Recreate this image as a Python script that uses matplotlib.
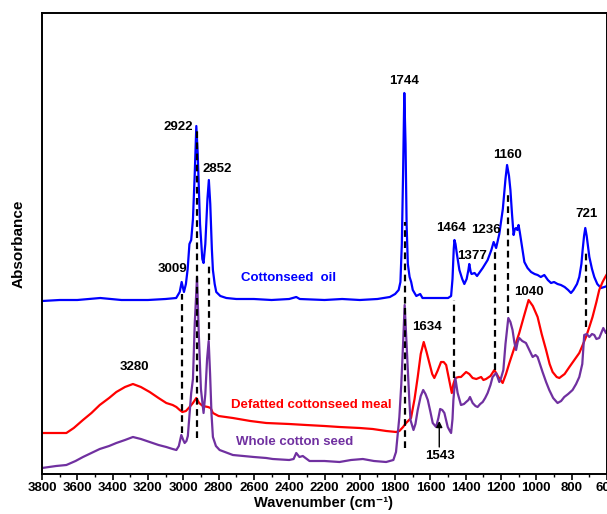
import matplotlib
matplotlib.use("Agg")
import matplotlib.pyplot as plt
from matplotlib.ticker import MultipleLocator

plt.rcParams['font.family'] = ['Liberation Sans', 'DejaVu Sans']
plt.rcParams['font.weight'] = 'bold'

# Cottonseed oil
oil_wn = [3800, 3700, 3600, 3470, 3350, 3200, 3100, 3040, 3020, 3009, 2996, 2985, 2975, 2965,
          2955, 2945, 2935, 2926, 2918, 2905, 2892, 2885, 2875, 2863, 2855, 2847, 2838, 2832,
          2822, 2813, 2790, 2756, 2700, 2600, 2500, 2400, 2360, 2340, 2200, 2100, 2000, 1900,
          1830, 1800, 1780, 1770, 1762, 1755, 1748, 1741, 1735, 1728, 1718, 1709, 1700, 1680,
          1658, 1645, 1600, 1550, 1500, 1483, 1475, 1468, 1464, 1458, 1451, 1436, 1420, 1408,
          1395, 1385, 1380, 1372, 1367, 1350, 1336, 1320, 1304, 1276, 1255, 1242, 1228, 1210,
          1190, 1175, 1166, 1155, 1147, 1138, 1129, 1122, 1115, 1108, 1101, 1094, 1087, 1068,
          1050, 1030, 1010, 993, 975, 955, 935, 917, 900, 880, 861, 840, 820, 804, 790, 770,
          757, 745, 738, 730, 723, 715, 708, 700, 685, 672, 655, 634, 615, 600]
oil_abs = [1.73, 1.74, 1.74, 1.76, 1.74, 1.74, 1.75, 1.76, 1.82, 1.92, 1.82, 1.90, 2.05, 2.30,
           2.34, 2.55, 3.00, 3.48, 3.20, 2.50, 2.15, 2.11, 2.30, 2.75, 2.94, 2.70, 2.25, 2.04,
           1.90, 1.82, 1.78, 1.76, 1.75, 1.75, 1.74, 1.75, 1.77, 1.75, 1.74, 1.75, 1.74, 1.75,
           1.77, 1.80, 1.84, 1.92, 2.30, 3.00, 3.81, 3.30, 2.50, 2.10, 1.97, 1.92, 1.84, 1.78,
           1.80, 1.76, 1.76, 1.76, 1.76, 1.78, 1.95, 2.25, 2.34, 2.30, 2.21, 2.04, 1.95, 1.90,
           1.95, 2.04, 2.10, 2.02, 2.00, 2.01, 1.98, 2.02, 2.06, 2.14, 2.24, 2.32, 2.26, 2.40,
           2.65, 2.95, 3.09, 2.98, 2.84, 2.60, 2.39, 2.45, 2.46, 2.44, 2.49, 2.42, 2.34, 2.12,
           2.06, 2.02, 2.00, 1.99, 1.97, 1.99, 1.94, 1.91, 1.92, 1.90, 1.89, 1.87, 1.84, 1.81,
           1.84, 1.90, 1.97, 2.10, 2.24, 2.38, 2.46, 2.38, 2.28, 2.17, 2.05, 1.97, 1.90, 1.86,
           1.87, 1.88]

# Defatted cottonseed meal
meal_wn = [3800, 3720, 3662, 3620, 3568, 3520, 3473, 3420, 3379, 3330, 3285, 3240, 3190, 3140,
           3096, 3060, 3039, 3020, 3005, 2985, 2964, 2945, 2926, 2910, 2889, 2860, 2845, 2832,
           2800, 2719, 2620, 2530, 2400, 2304, 2200, 2115, 2000, 1927, 1850, 1794, 1776, 1755,
           1738, 1710, 1690, 1672, 1655, 1638, 1622, 1606, 1590, 1578, 1560, 1540, 1525, 1511,
           1495, 1479, 1470, 1459, 1440, 1427, 1398, 1380, 1361, 1340, 1313, 1300, 1285, 1260,
           1238, 1215, 1191, 1172, 1153, 1125, 1097, 1070, 1044, 1020, 993, 970, 945, 925, 908,
           885, 870, 840, 813, 785, 757, 740, 719, 700, 682, 660, 644, 625, 610, 600]
meal_abs = [0.41, 0.41, 0.41, 0.46, 0.54, 0.61, 0.69, 0.76, 0.82, 0.87, 0.90, 0.87, 0.82, 0.76,
            0.71, 0.69, 0.67, 0.64, 0.62, 0.63, 0.67, 0.71, 0.76, 0.71, 0.68, 0.67, 0.66, 0.61,
            0.58, 0.56, 0.53, 0.51, 0.50, 0.49, 0.48, 0.47, 0.46, 0.45, 0.43, 0.42, 0.43, 0.47,
            0.51, 0.56, 0.75, 0.97, 1.20, 1.32, 1.22, 1.11, 1.00, 0.96, 1.03, 1.12, 1.12, 1.09,
            0.95, 0.81, 0.90, 0.96, 0.97, 0.97, 1.02, 1.00, 0.96, 0.95, 0.97, 0.94, 0.95, 0.98,
            1.04, 0.97, 0.91, 1.00, 1.11, 1.26, 1.41, 1.58, 1.74, 1.68, 1.57, 1.40, 1.24, 1.10,
            1.02, 0.97, 0.96, 1.00, 1.07, 1.14, 1.21, 1.28, 1.37, 1.47, 1.57, 1.72, 1.84, 1.92,
            1.97, 2.00]

# Whole cotton seed
seed_wn = [3800, 3720, 3662, 3610, 3568, 3520, 3473, 3420, 3379, 3330, 3285, 3240, 3190, 3140,
           3096, 3060, 3039, 3025, 3011, 3000, 2992, 2982, 2974, 2962, 2955, 2945, 2935, 2922,
           2912, 2900, 2885, 2875, 2865, 2856, 2848, 2840, 2832, 2815, 2794, 2719, 2600, 2530,
           2493, 2400, 2375, 2360, 2342, 2323, 2285, 2200, 2115, 2050, 1983, 1920, 1851, 1810,
           1795, 1785, 1776, 1765, 1755, 1746, 1738, 1729, 1720, 1713, 1696, 1685, 1672, 1655,
           1641, 1628, 1615, 1600, 1587, 1568, 1555, 1545, 1533, 1521, 1510, 1502, 1490, 1483,
           1475, 1470, 1459, 1452, 1446, 1427, 1410, 1398, 1385, 1376, 1361, 1345, 1333, 1318,
           1304, 1290, 1276, 1260, 1248, 1228, 1210, 1200, 1187, 1175, 1159, 1147, 1135, 1125,
           1115, 1106, 1097, 1080, 1059, 1040, 1021, 1005, 993, 980, 965, 945, 927, 905, 880,
           860, 842, 820, 795, 775, 757, 740, 729, 715, 700, 685, 672, 660, 644, 630, 621, 606,
           600]
seed_abs = [0.06, 0.08, 0.09, 0.13, 0.17, 0.21, 0.25, 0.28, 0.31, 0.34, 0.37, 0.35, 0.32, 0.29,
            0.27, 0.25, 0.24, 0.28, 0.39, 0.34, 0.31, 0.33, 0.38, 0.65, 0.81, 0.95, 1.50, 1.97,
            1.40, 0.85, 0.61, 0.80, 1.15, 1.33, 1.00, 0.60, 0.37, 0.28, 0.24, 0.19, 0.17, 0.16,
            0.15, 0.14, 0.15, 0.21, 0.17, 0.18, 0.13, 0.13, 0.12, 0.14, 0.15, 0.13, 0.12, 0.14,
            0.22, 0.40, 0.57, 0.90, 1.30, 1.69, 1.40, 1.07, 0.75, 0.54, 0.44, 0.50, 0.64, 0.78,
            0.84, 0.80, 0.74, 0.62, 0.51, 0.47, 0.56, 0.65, 0.64, 0.61, 0.53, 0.47, 0.43, 0.41,
            0.55, 0.74, 0.96, 0.88, 0.81, 0.69, 0.70, 0.72, 0.74, 0.77, 0.71, 0.68, 0.67, 0.70,
            0.72, 0.76, 0.81, 0.89, 0.97, 1.01, 0.92, 0.96, 1.04, 1.30, 1.56, 1.52, 1.44, 1.32,
            1.24, 1.32, 1.36, 1.33, 1.31, 1.24, 1.17, 1.19, 1.17, 1.10, 1.02, 0.92, 0.84, 0.76,
            0.71, 0.73, 0.77, 0.80, 0.84, 0.90, 0.97, 1.10, 1.39, 1.40, 1.37, 1.40, 1.39, 1.35,
            1.36, 1.42, 1.46, 1.41, 1.43]

# dashed guide lines: wavenumber, top, bottom
guide_wn = [3009, 2922, 2852, 1744, 1464, 1236, 1160, 721]
guide_top = [1.80, 3.47, 2.10, 2.52, 1.74, 2.24, 2.79, 2.21]
guide_bot = [0.41, 0.36, 1.34, 0.26, 0.96, 1.04, 1.61, 1.47]

fig = plt.figure(figsize=(6.07, 5.14), dpi=100)
ax = fig.add_axes([42 / 607, 40 / 514, 565 / 607, 461 / 514])

ax.plot(oil_wn, oil_abs, color='#0000FF', lw=1.6, solid_joinstyle='round')
ax.plot(meal_wn, meal_abs, color='#FF0000', lw=1.6, solid_joinstyle='round')
ax.plot(seed_wn, seed_abs, color='#7030A0', lw=1.6, solid_joinstyle='round')

for w, t, b in zip(guide_wn, guide_top, guide_bot):
    ax.plot([w, w], [b, t], color='black', lw=1.6, ls=(0, (3, 2)))

fs = 9.5
# peak labels
ax.text(2947, 3.47, '2922', ha='right', va='center', fontsize=fs)
ax.text(2891, 3.05, '2852', ha='left', va='center', fontsize=fs)
ax.text(3060, 2.05, '3009', ha='center', va='center', fontsize=fs)
ax.text(1747, 3.93, '1744', ha='center', va='center', fontsize=fs)
ax.text(1164, 3.19, '1160', ha='center', va='center', fontsize=fs)
ax.text(1482, 2.46, '1464', ha='center', va='center', fontsize=fs)
ax.text(1284, 2.44, '1236', ha='center', va='center', fontsize=fs)
ax.text(1363, 2.18, '1377', ha='center', va='center', fontsize=fs)
ax.text(718, 2.60, '721', ha='center', va='center', fontsize=fs)
ax.text(3275, 1.07, '3280', ha='center', va='center', fontsize=fs)
ax.text(1617, 1.47, '1634', ha='center', va='center', fontsize=fs)
ax.text(1040, 1.82, '1040', ha='center', va='center', fontsize=fs)
ax.text(1544, 0.18, '1543', ha='center', va='center', fontsize=fs)
ax.annotate('', xy=(1550, 0.53), xytext=(1550, 0.27),
            arrowprops=dict(arrowstyle='-|>', color='black', lw=1.0,
                            mutation_scale=9, shrinkA=0, shrinkB=0))

# series names
ax.text(2404, 1.96, 'Cottonseed  oil', color='#0000FF', ha='center', va='center', fontsize=fs)
ax.text(2274, 0.69, 'Defatted cottonseed meal', color='#FF0000', ha='center', va='center', fontsize=fs)
ax.text(2370, 0.32, 'Whole cotton seed', color='#7030A0', ha='center', va='center', fontsize=fs)

ax.set_xlim(3800, 600)
ax.set_ylim(0, 4.61)
ax.xaxis.set_major_locator(MultipleLocator(200))
ax.xaxis.set_minor_locator(MultipleLocator(100))
ax.tick_params(axis='x', which='major', direction='out', length=4, width=1.2, labelsize=fs, pad=2)
ax.tick_params(axis='x', which='minor', direction='out', length=2.5, width=1.0)
ax.set_yticks([])
for lab in ax.get_xticklabels():
    lab.set_fontweight('bold')
for s in ax.spines.values():
    s.set_linewidth(1.4)

fig.text(324 / 607, 1 - 503 / 514, 'Wavenumber (cm\u207b\u00b9)', fontsize=10.5,
         fontweight='bold', ha='center', va='center')
ax.set_ylabel('Absorbance', fontsize=11, fontweight='bold', labelpad=12)

fig.savefig('out.png', dpi=100)
